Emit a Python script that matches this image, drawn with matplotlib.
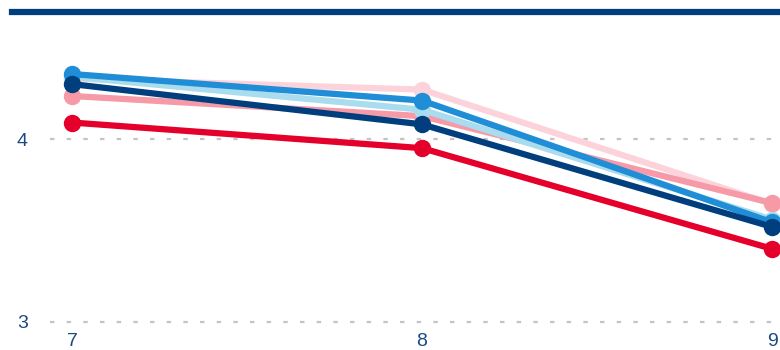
import matplotlib.pyplot as plt
from matplotlib.lines import Line2D

plt.rcParams['font.family'] = ['Liberation Sans', 'DejaVu Sans']

x_vals = [7, 8, 9]
pale_pink = [4.33, 4.27, 3.645]
pink = [4.235, 4.125, 3.65]
light_blue = [4.34, 4.16, 3.56]
mid_blue = [4.355, 4.21, 3.545]
navy = [4.30, 4.08, 3.52]
red = [4.09, 3.95, 3.40]

series = [
    (pale_pink, '#fdd3db'),
    (pink, '#f59aa6'),
    (light_blue, '#a9dcee'),
    (mid_blue, '#1f8ed6'),
    (navy, '#003e7e'),
    (red, '#e4002b'),
]

fig = plt.figure(figsize=(7.8, 3.5), dpi=100)
# axes from x=50px to the right edge, y from 325px to 20px
ax = fig.add_axes([50 / 780, 25 / 350, 730 / 780, 305 / 350])

for vals, col in series:
    ax.plot(x_vals, vals, color=col, lw=4.5, marker='o', ms=11.5,
            solid_capstyle='round', clip_on=False)

ax.set_xlim(7 - 22 / 350, 7 + 708 / 350)
ax.set_ylim(3 - 3 / 183, 4 + 119 / 183)
ax.set_yticks([3, 4])
ax.set_xticks(x_vals)
ax.yaxis.grid(True, color='#c4c4c4', lw=1.6, linestyle=(0, (2, 5.5)))
ax.set_axisbelow(True)
for s in ax.spines.values():
    s.set_visible(False)
ax.tick_params(length=0, labelsize=14, labelcolor='#1b4a82')
ax.tick_params(axis='y', pad=16)
ax.tick_params(axis='x', pad=6)

# heavy rule along the top
fig.add_artist(Line2D([12 / 780, 1], [1 - 12 / 350, 1 - 12 / 350],
                      color='#003e7e', lw=4.5, transform=fig.transFigure))

fig.savefig('out.png', dpi=100)
